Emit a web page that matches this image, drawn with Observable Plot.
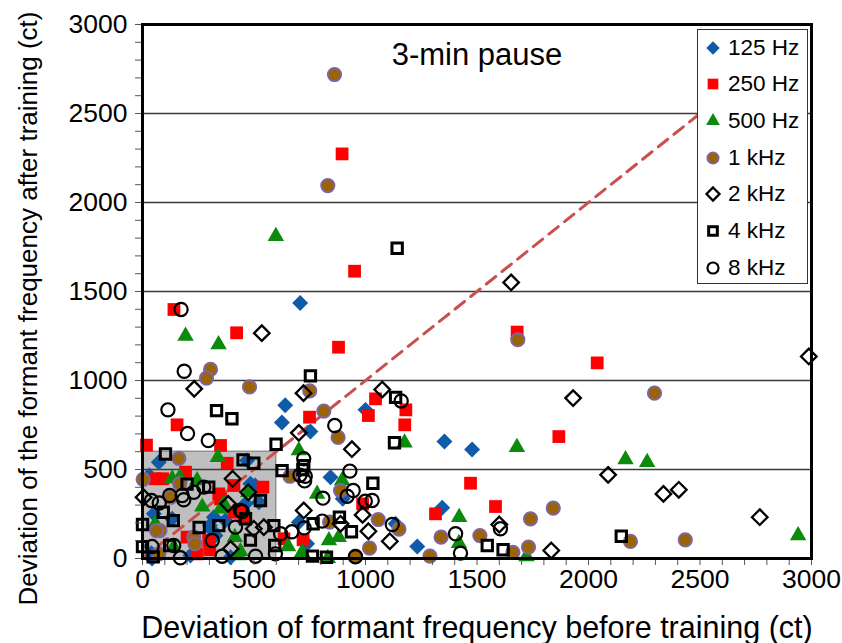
<!DOCTYPE html>
<html><head><meta charset="utf-8">
<script src="https://cdn.jsdelivr.net/npm/d3@7"></script>
<script src="https://cdn.jsdelivr.net/npm/@observablehq/plot@0.6"></script>
<style>
body{margin:0;background:#fff;font-family:"Liberation Sans",Arial,sans-serif}
#wrap{position:relative;width:842px;height:643px}
#legend{position:absolute;left:697px;top:29px;width:111px;height:255px;background:#fff;border:1px solid #333;box-sizing:border-box}
.row{position:absolute;left:0;height:30px;display:flex;align-items:center;font-size:22.5px;color:#000}
.row svg{width:30px;height:30px;margin-left:0px}
</style></head>
<body><div id="wrap"><div id="chart"></div><div id="legend"></div></div>
<script>
// tick labels / axes
const xTicks = [0, 500, 1000, 1500, 2000, 2500, 3000];
const yTicks = [0, 500, 1000, 1500, 2000, 2500, 3000];
const gridLines = [500, 1000, 1500, 2000, 2500];
const seriesNames = ["125 Hz", "250 Hz", "500 Hz", "1 kHz", "2 kHz", "4 kHz", "8 kHz"];
const titleText = "3-min pause";
const xLabel = "Deviation of formant frequency before training (ct)";
const yLabel = "Deviation of the formant frequency after training (ct)";
const shadeBox = [{x1: 0, x2: 600, y1: 0, y2: 600}];
const diagonal = [[0, 0], [2490, 2490]];

// series values [before, after]
const d125 = [[707,1436],[640,861],[625,764],[753,713],[1000,835],[1354,657],[1478,612],[843,457],[898,335],[1135,195],[1232,67],[1344,285],[701,204],[73,541],[30,466],[469,550],[505,410],[462,307],[522,316],[484,420],[372,213],[327,129],[313,157],[320,232],[133,223],[51,251],[302,185],[215,17],[395,7],[43,0],[738,83],[40,30]];
const d250 = [[895,2273],[951,1614],[141,1399],[422,1268],[879,1187],[1680,1272],[2039,1099],[155,751],[18,637],[350,635],[749,794],[1045,897],[1013,803],[1181,835],[1176,751],[380,535],[1867,685],[1471,423],[987,307],[1314,251],[1583,292],[634,111],[720,105],[58,448],[90,448],[193,485],[410,410],[540,401],[342,363],[432,270],[455,232],[200,120],[297,101],[302,49],[245,26],[350,335],[410,260]];
const d500 = [[598,1810],[193,1250],[341,1202],[1679,625],[2166,556],[2263,541],[2940,129],[1175,650],[701,607],[338,569],[895,438],[783,363],[1420,232],[1419,86],[1722,11],[653,67],[716,35],[836,101],[880,120],[831,2],[133,448],[167,457],[245,438],[474,372],[350,279],[268,290],[414,120],[432,17],[439,40],[58,195],[140,63],[365,307]];
const d1k = [[861,2719],[831,2095],[305,1062],[287,1013],[480,964],[750,942],[813,828],[877,680],[1683,1229],[2296,929],[163,562],[3,445],[661,462],[888,382],[1057,219],[1150,165],[1018,58],[1289,13],[1339,120],[1513,129],[839,204],[955,13],[1740,223],[1842,283],[1731,64],[1661,35],[2188,96],[2434,105],[167,420],[126,344],[78,157],[230,120],[73,26],[63,157],[235,83]];
const d2k = [[535,1266],[232,953],[722,929],[701,706],[939,614],[1075,949],[1653,1551],[2988,1135],[1931,901],[2088,470],[2336,363],[2405,386],[2768,232],[1600,191],[1833,45],[723,270],[888,195],[987,245],[1013,153],[1109,97],[404,448],[474,372],[384,307],[499,167],[544,176],[395,54],[5,344]];
const d4k = [[1142,1743],[753,1026],[332,831],[401,785],[1135,905],[1130,650],[599,642],[103,587],[451,554],[499,535],[626,494],[719,500],[723,522],[1033,423],[765,195],[883,232],[937,150],[762,13],[825,7],[1546,73],[1617,49],[2147,125],[200,418],[297,401],[529,326],[93,260],[138,213],[254,174],[342,185],[589,185],[0,191],[0,67],[122,73],[484,103],[593,73],[48,9],[462,223]];
const d8k = [[173,1399],[187,1052],[114,835],[202,702],[295,663],[862,747],[1160,885],[723,560],[706,468],[730,462],[727,436],[930,491],[918,350],[945,382],[809,339],[999,322],[1030,326],[1120,191],[1404,139],[1426,30],[725,172],[806,210],[619,139],[670,150],[955,10],[1605,167],[275,401],[40,326],[75,312],[122,354],[178,354],[185,330],[230,372],[439,270],[447,264],[417,176],[140,73],[43,67],[170,4],[357,13],[507,13],[596,26],[313,101]];

const styles = [
  {symbol: "diamond2", fill: "#0f5ba8", stroke: "none", strokeWidth: 0, r: 7.2},
  {symbol: "square", fill: "#ff0000", stroke: "none", strokeWidth: 0, r: 7.2},
  {symbol: "triangle", fill: "#0b8a0b", stroke: "none", strokeWidth: 0, r: 6.1},
  {symbol: "circle", fill: "#9a6400", stroke: "#8064a2", strokeWidth: 2, r: 6.6},
  {symbol: "diamond2", fill: "none", stroke: "#000", strokeWidth: 2.3, r: 7},
  {symbol: "square2", fill: "none", stroke: "#000", strokeWidth: 3, r: 6.6},
  {symbol: "circle", fill: "none", stroke: "#000", strokeWidth: 2.2, r: 6.6}
];
const allData = [d125, d250, d500, d1k, d2k, d4k, d8k];

const dotMarks = allData.map((data, i) => Plot.dot(data, {
  x: d => d[0], y: d => d[1], symbol: () => styles[i].symbol, r: styles[i].r,
  fill: styles[i].fill, stroke: styles[i].stroke, strokeWidth: styles[i].strokeWidth
}));

const minor = d3.range(0, 3001, 100);
const chart = Plot.plot({
  width: 842, height: 643,
  marginLeft: 142, marginRight: 31, marginTop: 24, marginBottom: 85,
  x: {domain: [0, 3000]},
  y: {domain: [0, 3000]},
  symbol: {type: "identity"},
  style: {fontFamily: "'Liberation Sans', Arial, sans-serif", background: "#fff", color: "#000"},
  marks: [
    Plot.rect(shadeBox, {x1: "x1", x2: "x2", y1: "y1", y2: "y2", fill: "#bfbfbf", stroke: "#808080", strokeWidth: 1.2}),
    Plot.ruleY(gridLines, {stroke: "#3a3a3a", strokeWidth: 1.3}),
    Plot.line(diagonal, {x: d => d[0], y: d => d[1], stroke: "#c9504d", strokeWidth: 3, strokeDasharray: "12,8"}),
    ...dotMarks,
    Plot.axisX(minor, {tickSize: 7, tickPadding: 4, stroke: "#555", fontSize: 26.5, label: null,
      tickFormat: d => xTicks.includes(d) ? String(d) : ""}),
    Plot.axisY(minor, {tickSize: 7, tickPadding: 8, stroke: "#555", fontSize: 26.5, label: null,
      tickFormat: d => yTicks.includes(d) ? String(d) : ""}),
    Plot.frame({stroke: "#000", strokeWidth: 3}),
    Plot.text([titleText], {frameAnchor: "top", lineAnchor: "middle", dy: 31, fontSize: 31, fill: "#000"}),
    Plot.text([xLabel], {frameAnchor: "bottom", lineAnchor: "middle", dy: 70, fontSize: 30.5, fill: "#000"}),
    Plot.text([yLabel], {frameAnchor: "left", textAnchor: "middle", lineAnchor: "middle", dx: -114, dy: 17, rotate: -90, fontSize: 26, fill: "#000"})
  ]
});
document.getElementById("chart").appendChild(chart);

// legend
const legend = document.getElementById("legend");
seriesNames.forEach((name, i) => {
  const st = styles[i];
  const cy = 46.7 + i * 36.67 - 29;
  const row = document.createElement("div");
  row.className = "row";
  row.style.top = (cy - 15) + "px";
  const sym = {diamond2: d3.symbolDiamond2, square: d3.symbolSquare, triangle: d3.symbolTriangle,
    circle: d3.symbolCircle, square2: d3.symbolSquare2}[st.symbol];
  const size = Math.PI * st.r * st.r * 0.7;
  const svg = d3.create("svg").attr("viewBox", "-15 -15 30 30");
  svg.append("path").attr("d", d3.symbol(sym, size)())
    .attr("fill", st.fill).attr("stroke", st.stroke === "none" ? null : st.stroke)
    .attr("stroke-width", st.strokeWidth || null);
  row.appendChild(svg.node());
  const span = document.createElement("span");
  span.textContent = name;
  row.appendChild(span);
  legend.appendChild(row);
});
</script></body></html>
